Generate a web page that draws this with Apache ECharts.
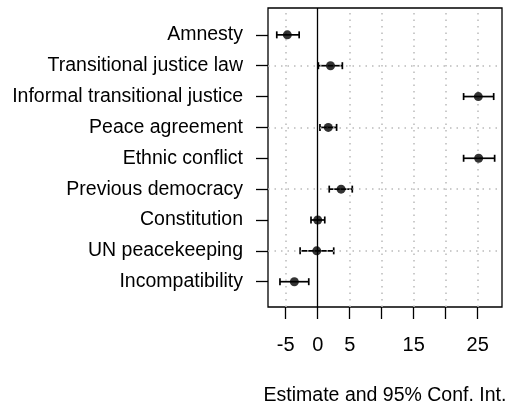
<!DOCTYPE html>
<html>
<head>
<meta charset="utf-8">
<script src="https://cdn.jsdelivr.net/npm/echarts@6/dist/echarts.min.js"></script>
<style>
html,body{margin:0;padding:0;background:#fff;}
#chart{width:513px;height:405px;}
</style>
</head>
<body>
<div id="chart"></div>
<script>
// Categories listed top to bottom
var categories = ["Amnesty", "Transitional justice law", "Informal transitional justice", "Peace agreement", "Ethnic conflict", "Previous democracy", "Constitution", "UN peacekeeping", "Incompatibility"];
var estimates = [-4.75, 2.0, 25.1, 1.65, 25.15, 3.65, 0.0, -0.15, -3.65];
var lower = [-6.4, 0.1, 22.8, 0.35, 22.8, 1.8, -1.05, -2.75, -5.9];
var upper = [-2.9, 3.85, 27.5, 2.95, 27.65, 5.4, 1.1, 2.5, -1.4];
var xTicks = [-5, 0, 5, 10, 15, 20, 25];
var xTickLabels = [-5, 0, 5, 15, 25];
var gridRows = [8, 6, 4, 2];

var n = categories.length;
// y position: top category is highest
function yPos(i) { return n - i; }

var pointData = estimates.map(function (v, i) { return [v, yPos(i)]; });
var barData = estimates.map(function (v, i) { return [yPos(i), lower[i], upper[i]]; });
var yValues = categories.map(function (c, i) { return yPos(i); });

var FONT = "Liberation Sans, Arial, sans-serif";
var chart = echarts.init(document.getElementById('chart'), null, {renderer: 'canvas'});
chart.setOption({
  animation: false,
  backgroundColor: '#fff',
  grid: {left: 268, right: 11, top: 8, bottom: 98, show: true, borderColor: '#000', borderWidth: 1.3, backgroundColor: 'transparent', outerBoundsMode: 'none', containLabel: false},
  xAxis: {
    type: 'value', min: -7.77, max: 28.8,
    axisLine: {show: false, onZero: false},
    splitLine: {show: false},
    axisTick: {show: true, inside: false, length: 12, lineStyle: {color: '#000', width: 1.3}, customValues: xTicks},
    axisLabel: {customValues: xTickLabels, margin: 28, fontSize: 20, color: '#000', fontFamily: FONT},
    name: 'Estimate and 95% Conf. Int.', nameLocation: 'middle', nameGap: 79,
    nameTextStyle: {fontSize: 19.5, color: '#000', fontFamily: FONT}
  },
  yAxis: {
    type: 'value', min: 0.18, max: 9.87,
    axisLine: {show: false, onZero: false},
    splitLine: {show: false},
    axisTick: {show: true, inside: false, length: 12, lineStyle: {color: '#000', width: 1.3}, customValues: yValues},
    axisLabel: {
      customValues: yValues, margin: 25, fontSize: 19.5, color: '#000', fontFamily: FONT,
      formatter: function (v) { var i = n - Math.round(v); return categories[i] || ''; }
    }
  },
  series: [
    {
      type: 'line', data: [], silent: true,
      markLine: {
        silent: true, symbol: 'none', label: {show: false}, animation: false,
        lineStyle: {color: '#bbb', type: [1.5, 5], width: 1.5},
        data: xTicks.filter(function (t) { return t !== 0; }).map(function (t) { return {xAxis: t}; })
          .concat(gridRows.map(function (r) { return {yAxis: r}; }))
      }
    },
    {
      type: 'line', data: [], silent: true,
      markLine: {
        silent: true, symbol: 'none', label: {show: false}, animation: false,
        lineStyle: {color: '#000', type: 'solid', width: 1.3},
        data: [{xAxis: 0}]
      }
    },
    {
      type: 'custom',
      data: barData,
      renderItem: function (params, api) {
        var y = api.value(0);
        var a = api.coord([api.value(1), y]);
        var b = api.coord([api.value(2), y]);
        var h = 3.5;
        var st = {stroke: '#000', lineWidth: 1.7};
        return {type: 'group', children: [
          {type: 'line', shape: {x1: a[0], y1: a[1], x2: b[0], y2: b[1]}, style: st},
          {type: 'line', shape: {x1: a[0], y1: a[1] - h, x2: a[0], y2: a[1] + h}, style: st},
          {type: 'line', shape: {x1: b[0], y1: b[1] - h, x2: b[0], y2: b[1] + h}, style: st}
        ]};
      },
      encode: {x: [1, 2], y: 0}
    },
    {
      type: 'scatter', data: pointData, symbol: 'circle', symbolSize: 9,
      itemStyle: {color: '#000'}, z: 5
    }
  ]
});
</script>
</body>
</html>
